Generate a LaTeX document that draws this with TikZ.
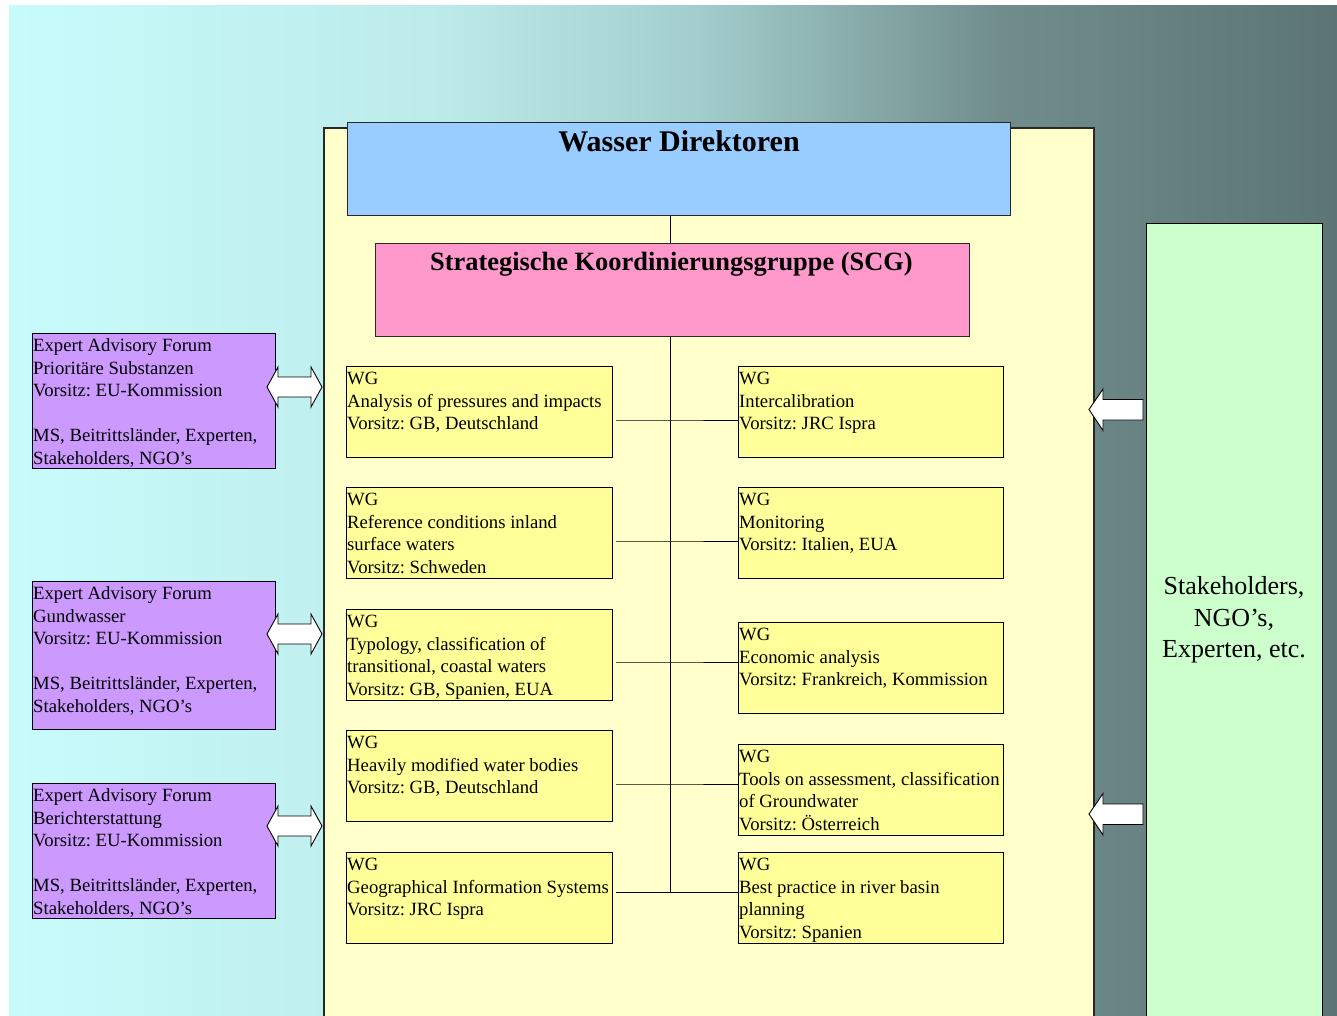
\documentclass[tikz,border=0pt]{standalone}
\usepackage{fontspec}
\setmainfont{Liberation Serif}
\frenchspacing
\definecolor{bgA}{RGB}{200,252,252}
\definecolor{bgB}{RGB}{188,234,233}
\definecolor{bgC}{RGB}{162,205,204}
\definecolor{bgD}{RGB}{112,141,140}
\definecolor{bgE}{RGB}{92,116,116}
\definecolor{panelY}{RGB}{255,255,204}
\definecolor{wgY}{RGB}{255,255,153}
\definecolor{dirBlue}{RGB}{153,204,255}
\definecolor{scgPink}{RGB}{255,153,204}
\definecolor{eafPurple}{RGB}{204,153,255}
\definecolor{stakeGreen}{RGB}{204,255,204}
\definecolor{edge}{RGB}{40,40,40}
\newcommand\fsnorm{\fontsize{18.7}{22.5}\selectfont}
\tikzset{
  panel/.style={draw=edge, line width=1.3pt, fill=panelY},
  boxbase/.style={draw=black, line width=1pt, inner sep=0pt, anchor=north west},
  wgbox/.style={boxbase, fill=wgY, minimum width=266pt, minimum height=91pt},
  eafbox/.style={boxbase, fill=eafPurple, minimum width=243pt},
  boxtext/.style={anchor=north west, inner sep=0pt, align=left, font=\fsnorm, text=black},
  conn/.style={draw=black, line width=1pt},
  blockarrow/.style={draw=black, line width=0.9pt, fill=white, line join=miter},
  dbl/.pic={\path[blockarrow] (-27.5,0) -- (-16.5,-20) -- (-16.5,-10) -- (16.5,-10) -- (16.5,-20) -- (27.5,0) -- (16.5,20) -- (16.5,10) -- (-16.5,10) -- (-16.5,20) -- cycle;},
  lft/.pic={\path[blockarrow] (-27,0) -- (-13,-20.5) -- (-13,-10) -- (27,-10) -- (27,10.5) -- (-13,10.5) -- (-13,21) -- cycle;}
}
\begin{document}
\begin{tikzpicture}[x=1pt,y=-1pt]
\useasboundingbox (0,0) rectangle (1337,1016);
% background gradient
\fill[white] (0,0) rectangle (1337,1016);
\shade[left color=bgA, right color=bgB] (9,6) rectangle (450,1016);
\shade[left color=bgB, right color=bgC] (449.5,6) rectangle (700,1016);
\shade[left color=bgC, right color=bgD] (699.5,6) rectangle (1000,1016);
\shade[left color=bgD, right color=bgE] (999.5,6) rectangle (1337,1016);
% panels
\begin{scope}
\clip (0,0) rectangle (1337,1016);
\path[panel] (324,128) rectangle (1094,1030);
\node[boxbase, draw=black, line width=1pt, fill=stakeGreen, minimum width=176pt, minimum height=810pt] (stake) at (1146,223) {};
\end{scope}
\node[font=\fontsize{26}{31.5}\selectfont, align=center, inner sep=0pt] (staketext) at (1234,620) {Stakeholders,\\NGO’s,\\Experten, etc.};
% directors and SCG
\node[boxbase, draw=edge, line width=1.2pt, fill=dirBlue, minimum width=663pt, minimum height=93pt] (dir) at (347,122) {};
\node[anchor=base, inner sep=0pt, font=\fontsize{30}{35}\selectfont\bfseries] (dirtext) at (679,152) {Wasser Direktoren};
\node[boxbase, draw=edge, line width=1.2pt, fill=scgPink, minimum width=594pt, minimum height=93pt] (scg) at (375,243) {};
\node[anchor=base, inner sep=0pt, font=\fontsize{26.4}{31}\selectfont\bfseries] (scgtext) at (671.5,270) {Strategische Koordinierungsgruppe (SCG)};
% spine
\coordinate (s0) at (670,215);
\coordinate (s1) at (670,420);
\coordinate (s2) at (670,541);
\coordinate (s3) at (670,662);
\coordinate (s4) at (670,784);
\coordinate (s5) at (670,892);
\draw[conn] (dir.south -| s0) -- (scg.north -| s0);
\draw[conn] (scg.south -| s0) -- (s5);
% WG boxes left
\node[wgbox] (L1) at (346,366) {};
\node[wgbox] (L2) at (346,487) {};
\node[wgbox] (L3) at (346,609) {};
\node[wgbox] (L4) at (346,730) {};
\node[wgbox] (L5) at (346,852) {};
% WG boxes right
\node[wgbox, minimum width=265pt] (R1) at (738,366) {};
\node[wgbox, minimum width=265pt] (R2) at (738,487) {};
\node[wgbox, minimum width=265pt] (R3) at (738,622) {};
\node[wgbox, minimum width=265pt] (R4) at (738,744) {};
\node[wgbox, minimum width=265pt] (R5) at (738,852) {};
% texts
\node[boxtext] (L1t) at ([xshift=1pt,yshift=-3pt]L1.north west) {\strut WG\\Analysis of pressures and impacts\\Vorsitz: GB, Deutschland};
\node[boxtext] (L2t) at ([xshift=1pt,yshift=-3pt]L2.north west) {\strut WG\\Reference conditions inland\\surface waters\\Vorsitz: Schweden};
\node[boxtext] (L3t) at ([xshift=1pt,yshift=-3pt]L3.north west) {\strut WG\\Typology, classification of\\transitional, coastal waters\\Vorsitz: GB, Spanien, EUA};
\node[boxtext] (L4t) at ([xshift=1pt,yshift=-3pt]L4.north west) {\strut WG\\Heavily modified water bodies\\Vorsitz: GB, Deutschland};
\node[boxtext] (L5t) at ([xshift=1pt,yshift=-3pt]L5.north west) {\strut WG\\Geographical Information Systems\\Vorsitz: JRC Ispra};
\node[boxtext] (R1t) at ([xshift=1pt,yshift=-3pt]R1.north west) {\strut WG\\Intercalibration\\Vorsitz: JRC Ispra};
\node[boxtext] (R2t) at ([xshift=1pt,yshift=-3pt]R2.north west) {\strut WG\\Monitoring\\Vorsitz: Italien, EUA};
\node[boxtext] (R3t) at ([xshift=1pt,yshift=-3pt]R3.north west) {\strut WG\\Economic analysis\\Vorsitz: Frankreich, Kommission};
\node[boxtext] (R4t) at ([xshift=1pt,yshift=-3pt]R4.north west) {\strut WG\\Tools on assessment, classification\\of Groundwater\\Vorsitz: Österreich};
\node[boxtext] (R5t) at ([xshift=1pt,yshift=-3pt]R5.north west) {\strut WG\\Best practice in river basin\\planning\\Vorsitz: Spanien};
% connectors
\draw[conn] ([xshift=3pt]L1.east |- s1) -- (s1) -- (R1.west |- s1);
\draw[conn] ([xshift=3pt]L2.east |- s2) -- (s2) -- (R2.west |- s2);
\draw[conn] ([xshift=3pt]L3.east |- s3) -- (s3) -- (R3.west |- s3);
\draw[conn] ([xshift=3pt]L4.east |- s4) -- (s4) -- (R4.west |- s4);
\draw[conn] ([xshift=3pt]L5.east |- s5) -- (s5) -- (R5.west |- s5);
% expert advisory forums
\node[eafbox, minimum height=135pt] (E1) at (32,333) {};
\node[eafbox, minimum height=148pt] (E2) at (32,581) {};
\node[eafbox, minimum height=135pt] (E3) at (32,783) {};
\node[boxtext] (E1t) at ([xshift=1pt,yshift=-3pt]E1.north west) {\strut Expert Advisory Forum\\Prioritäre Substanzen\\Vorsitz: EU-Kommission\\[22.5pt]MS, Beitrittsländer, Experten,\\Stakeholders, NGO’s};
\node[boxtext] (E2t) at ([xshift=1pt,yshift=-3pt]E2.north west) {\strut Expert Advisory Forum\\Gundwasser\\Vorsitz: EU-Kommission\\[22.5pt]MS, Beitrittsländer, Experten,\\Stakeholders, NGO’s};
\node[boxtext] (E3t) at ([xshift=1pt,yshift=-3pt]E3.north west) {\strut Expert Advisory Forum\\Berichterstattung\\Vorsitz: EU-Kommission\\[22.5pt]MS, Beitrittsländer, Experten,\\Stakeholders, NGO’s};
% block arrows
\pic at (294.5,387) {dbl};
\pic at (294.5,634) {dbl};
\pic at (294.5,826) {dbl};
\pic at (1116,409.5) {lft};
\pic at (1116,814) {lft};
\end{tikzpicture}
\end{document}
